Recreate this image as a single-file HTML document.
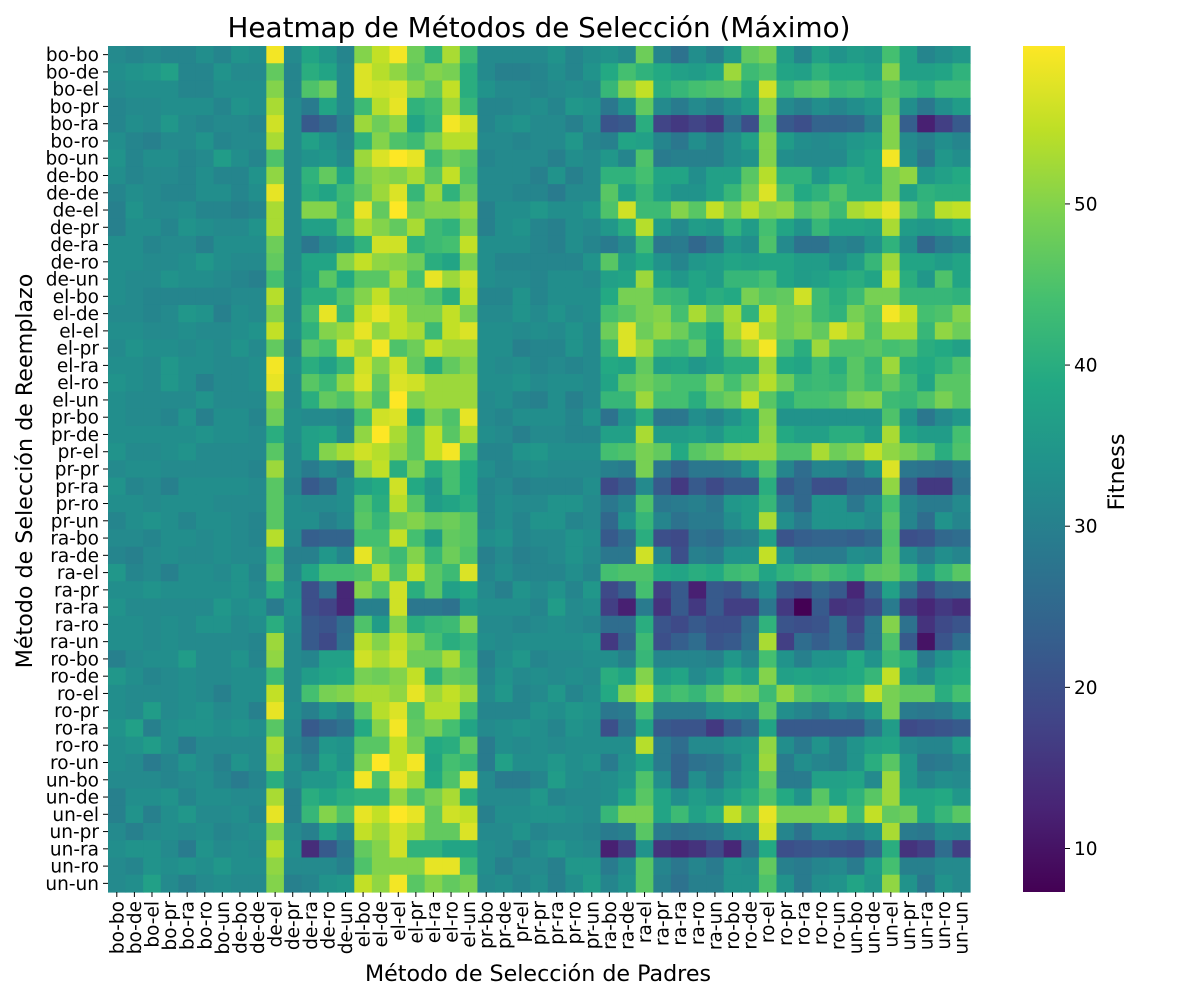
<!DOCTYPE html>
<html><head><meta charset="utf-8"><style>
html,body{margin:0;padding:0;background:#fff}
svg{display:block;font-family:"DejaVu Sans","Liberation Sans",sans-serif}
</style></head><body>
<svg id="chart" width="1200" height="1000" viewBox="0 0 1200 1000">
<text x="539" y="37" text-anchor="middle" font-size="27.8" fill="#000">Heatmap de Métodos de Selección (Máximo)</text>
<text x="538" y="981" text-anchor="middle" font-size="22.2" fill="#000">Método de Selección de Padres</text>
<text transform="translate(32,471) rotate(-90)" text-anchor="middle" font-size="22.2" fill="#000">Método de Selección de Reemplazo</text>
<text transform="translate(1124,472) rotate(-90)" text-anchor="middle" font-size="22.2" fill="#000">Fitness</text>
<g id="cells"></g>
<g id="xticks"></g>
<g id="yticks"></g>
<g id="cbar"></g>
</svg>
<script>
const methods = ["bo","de","el","pr","ra","ro","un"];
const categories = [];
methods.forEach(a => methods.forEach(b => categories.push(a + "-" + b)));
const colorbarTicks = [10, 20, 30, 40, 50];
const scaleMin = 7.3;
const scaleMax = 59.8;
const leftValues = [
[32,31,32,31,31,33,31,34,33,59,32,38,35,31,50,55,59,48,41,53,43,32,32,32],
[33,34,35,37,31,31,34,32,32,47,31,40,38,32,57,54,51,47,50,49,40,32,30,30],
[32,33,33,33,31,31,33,33,33,50,31,45,48,32,57,56,57,51,47,55,40,34,32,32],
[31,32,32,33,33,33,31,34,33,53,32,29,38,32,43,54,58,41,43,52,42,31,31,32],
[31,33,32,35,32,31,32,32,31,56,32,22,25,30,52,48,51,38,42,59,56,31,33,34],
[33,31,30,32,32,34,31,32,32,53,32,37,34,31,41,50,45,43,49,54,54,32,32,31],
[34,31,33,33,31,32,36,33,31,45,32,34,35,32,52,57,60,58,43,48,46,31,32,32],
[33,31,32,32,31,33,31,31,34,51,32,41,47,38,49,51,50,53,46,55,45,32,32,32],
[31,33,32,31,31,33,33,31,33,58,32,40,38,43,47,52,57,42,52,41,48,32,32,31],
[30,34,32,32,33,31,31,30,31,53,32,50,50,42,58,47,60,48,50,50,52,30,33,33],
[30,33,33,31,34,33,32,32,34,53,32,37,37,45,53,50,47,53,43,41,49,30,33,34],
[33,33,31,32,32,30,33,33,33,48,32,28,32,35,41,56,56,41,43,44,55,33,33,33],
[33,33,32,32,33,35,33,32,32,47,32,38,38,50,55,51,50,48,40,38,49,33,31,31],
[33,32,32,34,33,33,32,31,30,44,33,37,46,39,46,46,53,44,58,52,56,33,32,32],
[33,32,31,31,31,31,31,32,32,54,32,40,40,45,50,55,48,48,45,40,55,31,31,34],
[32,32,31,32,35,34,30,33,32,50,32,44,58,42,55,58,55,49,49,55,49,32,32,34],
[33,33,32,32,33,32,32,33,34,55,33,41,50,52,58,51,55,53,43,55,57,33,33,32],
[32,34,33,33,32,33,32,34,32,47,31,46,44,56,52,59,45,48,55,52,52,33,33,30],
[33,33,32,35,33,33,32,32,33,59,33,40,37,42,56,50,56,47,40,47,50,33,32,33],
[34,33,32,35,33,30,32,32,33,58,32,46,43,51,57,47,57,56,52,52,52,33,33,34],
[33,32,32,32,32,34,32,32,32,50,32,40,47,45,51,45,60,50,52,52,52,32,33,31],
[33,32,32,31,34,30,33,33,31,48,33,32,32,31,44,56,57,39,49,45,58,32,31,33],
[33,33,33,33,33,34,33,33,32,40,33,37,38,32,51,60,53,46,55,46,53,33,32,30],
[34,32,32,33,34,32,32,32,32,46,32,37,50,53,56,54,51,46,55,59,44,31,31,34],
[32,33,33,32,32,32,32,32,31,52,32,29,32,30,51,55,40,49,40,44,39,33,31,32],
[34,31,32,30,33,33,33,33,32,46,31,22,25,33,37,39,56,39,35,44,39,31,32,30],
[33,33,32,33,33,33,32,32,32,46,33,32,32,33,45,40,54,46,36,38,40,31,33,32],
[31,33,34,33,31,33,33,32,31,46,33,33,30,32,46,42,48,50,47,48,46,31,33,31],
[32,32,31,33,33,32,33,32,31,54,32,23,24,24,44,44,55,44,36,47,46,33,34,31],
[31,30,32,33,32,32,33,32,32,44,30,30,35,31,58,46,43,50,42,48,45,30,32,30],
[35,31,32,30,33,33,32,34,31,46,31,38,44,44,45,54,45,55,46,43,57,31,33,31],
[33,33,34,33,33,33,33,34,32,40,33,20,27,13,50,45,56,40,46,37,39,32,30,34],
[34,32,32,32,32,32,35,33,34,29,34,20,18,13,30,30,56,28,28,27,35,33,33,33],
[33,33,32,33,32,34,34,32,33,40,33,22,21,26,45,36,50,40,42,43,50,32,32,31],
[33,33,32,33,32,32,32,32,31,52,32,22,19,27,54,50,55,50,44,40,42,33,32,33],
[30,32,33,33,36,32,32,34,31,51,32,31,37,37,56,53,56,48,48,53,44,30,33,35],
[35,33,31,32,33,32,32,33,33,43,32,36,38,39,49,48,50,55,41,47,46,31,34,32],
[33,32,32,32,33,32,30,33,33,55,32,44,49,50,53,53,51,58,52,55,52,32,35,31],
[33,32,36,32,33,34,32,33,30,58,33,30,34,31,46,54,57,46,54,54,43,31,31,31],
[34,37,30,33,34,34,33,34,33,46,32,22,25,27,39,50,59,47,49,44,38,32,33,34],
[33,34,36,33,29,32,32,32,32,53,31,28,35,34,46,46,55,49,39,40,47,29,33,32],
[33,32,29,31,34,32,30,34,32,52,33,30,37,34,49,60,55,59,38,44,42,29,37,33],
[32,32,32,31,32,33,31,29,31,40,32,35,35,38,59,45,58,53,39,45,57,32,29,29],
[30,33,33,34,31,33,33,32,32,53,30,40,38,40,41,41,51,45,49,53,40,32,32,32],
[30,34,30,33,35,32,32,33,31,58,30,42,50,45,58,55,60,58,47,56,55,30,33,33],
[32,30,32,33,32,33,31,32,33,50,32,30,37,32,55,52,56,53,47,47,57,32,32,34],
[33,34,34,32,29,34,32,33,32,54,33,14,22,28,47,50,56,41,41,38,38,33,32,30],
[32,31,34,33,34,33,35,33,33,51,32,32,32,30,45,50,50,50,58,58,43,33,30,32],
[32,33,37,32,30,32,33,32,32,50,30,31,34,35,55,51,59,46,50,47,49,32,33,31]
];
const rightValues = [
[32,34,31,33,34,32,48,31,27,33,30,35,47,49,36,31,37,34,36,35,44,37,31,33,35],
[31,33,31,34,39,44,41,39,37,36,38,52,43,45,38,37,41,39,39,37,50,37,37,38,41],
[31,32,33,32,42,50,55,40,42,44,45,46,40,56,42,45,46,42,43,41,45,42,40,43,43],
[33,31,35,34,28,34,47,32,29,32,30,33,36,50,32,30,33,31,33,35,47,33,28,33,36],
[32,32,30,33,21,22,40,18,16,18,16,27,20,47,22,20,24,24,25,30,50,23,12,17,22],
[32,32,35,31,30,38,37,31,28,33,30,33,37,50,36,33,32,33,35,36,50,32,30,33,31],
[32,30,33,32,35,31,45,29,30,30,30,33,34,50,33,32,32,32,36,38,59,33,28,35,33],
[30,34,30,32,41,41,44,38,38,33,37,37,46,54,41,41,35,39,40,38,49,51,35,37,39],
[31,29,32,32,46,37,42,37,34,34,37,42,48,57,45,39,41,45,40,40,49,37,41,40,40],
[35,33,33,35,45,56,43,43,50,46,55,49,54,50,51,45,47,43,53,55,58,47,42,54,55],
[31,30,33,32,35,40,54,36,32,36,35,41,36,44,38,34,42,38,38,37,53,36,35,36,39],
[31,30,33,31,29,32,43,28,29,25,28,35,33,45,32,27,27,31,30,34,41,33,25,29,31],
[31,31,31,34,46,36,39,34,31,35,36,38,37,38,38,36,36,33,36,42,52,38,38,36,38],
[31,33,33,32,37,38,52,38,35,38,36,42,42,44,38,36,37,39,40,38,55,40,35,45,38],
[31,33,33,33,39,49,49,43,42,38,40,39,49,46,47,56,43,40,43,49,49,42,42,42,41],
[32,34,32,33,44,46,49,50,44,53,47,53,41,55,48,49,43,41,49,46,59,55,44,45,50],
[33,32,34,32,48,57,48,51,48,43,39,52,58,52,48,50,47,56,52,45,53,53,42,51,48],
[31,31,34,32,43,57,52,44,43,47,38,47,52,59,45,40,52,45,45,46,44,45,40,39,37],
[31,32,31,32,39,38,47,37,38,35,37,40,40,52,39,38,43,40,46,42,52,40,39,41,45],
[32,33,33,32,38,46,48,46,44,44,49,44,49,54,48,42,43,42,46,43,47,43,38,46,46],
[30,33,30,32,42,42,52,44,44,40,46,48,55,46,40,44,44,45,49,50,43,42,45,49,46],
[33,33,31,34,27,34,40,28,28,33,31,34,38,50,34,34,34,34,34,34,45,34,28,32,35],
[32,32,31,31,37,37,53,36,36,37,35,39,39,51,39,37,37,40,40,36,53,38,36,36,44],
[35,33,33,33,44,45,49,47,39,46,48,51,52,52,45,45,53,48,50,55,51,49,46,40,45],
[33,32,32,32,30,29,49,28,24,28,28,29,34,45,31,26,31,31,28,34,57,28,27,26,29],
[31,31,31,33,19,22,32,22,16,22,19,22,22,40,22,25,20,20,24,24,51,22,16,16,27],
[32,34,34,32,28,31,45,28,29,30,28,35,36,42,29,25,34,34,28,33,44,31,29,29,32],
[34,34,31,32,25,34,42,31,27,29,29,33,36,53,33,29,34,34,34,32,46,31,26,34,31],
[32,32,34,33,22,26,40,20,19,27,26,29,30,37,21,23,24,24,23,25,45,20,21,25,26],
[31,32,34,32,28,28,56,31,20,30,29,34,34,55,34,29,29,29,33,32,46,33,29,33,31],
[31,31,33,31,44,45,45,39,38,40,39,43,44,38,41,43,45,43,41,46,47,43,36,42,46],
[32,34,31,35,19,23,44,17,22,12,22,21,27,33,22,20,25,22,13,24,37,27,19,24,25],
[31,36,32,33,17,12,29,15,22,16,22,17,17,28,16,7.3,22,15,16,19,29,16,13,16,14],
[32,33,32,31,26,26,40,21,19,22,20,20,26,41,21,20,21,26,18,28,50,27,15,19,21],
[33,33,33,34,16,24,43,20,23,26,21,22,27,53,17,26,23,26,21,28,45,22,10,21,26],
[31,32,32,33,33,30,42,31,31,31,30,35,31,44,34,30,34,34,39,34,43,40,29,34,38],
[33,32,33,32,40,38,50,36,38,32,35,40,37,50,37,38,37,38,39,42,55,36,33,38,39],
[32,35,31,33,39,50,55,42,44,42,46,50,49,43,51,46,44,43,45,55,49,47,47,40,44],
[34,33,35,34,28,29,44,29,29,29,33,34,33,46,33,31,29,33,31,35,49,29,28,29,33],
[33,31,34,33,20,27,38,22,21,21,16,22,26,38,22,22,22,22,22,28,36,19,20,21,22],
[33,32,33,33,33,33,54,29,26,32,32,34,35,51,33,29,34,30,34,37,38,32,31,31,36],
[33,35,33,34,29,34,38,29,24,27,28,31,36,52,29,33,31,30,34,40,46,35,28,29,31],
[31,36,33,32,33,35,45,33,24,33,29,34,37,47,29,29,37,37,38,32,52,35,31,33,32],
[35,31,32,32,33,38,46,38,33,36,34,37,40,45,39,34,46,38,41,46,52,38,38,39,35],
[34,34,33,32,42,49,49,38,43,37,40,55,46,58,49,49,49,53,43,55,47,48,38,42,46],
[31,32,32,31,29,30,46,29,27,28,29,33,34,56,31,27,33,33,31,34,53,29,28,33,32],
[33,35,33,32,12,17,34,15,13,15,19,13,27,39,20,21,22,21,20,25,40,15,17,26,17],
[32,30,35,35,29,33,46,31,28,31,29,34,33,47,30,29,31,32,29,36,44,30,30,32,32],
[33,30,33,36,31,34,46,30,27,30,30,34,34,45,34,29,33,34,38,35,51,34,28,34,32]
];

const NS = "http://www.w3.org/2000/svg";
const plotX = 108, plotY = 46, plotW = 862, plotH = 846;
const n = categories.length;
const cw = plotW / n, ch = plotH / n;
const xPos = i => plotX + i * cw;
const yPos = i => plotY + i * ch;
const viridis = ["#440154","#482475","#414487","#355f8d","#2a788e","#21918c","#22a884","#44bf70","#7ad151","#bddf26","#fde725"];
function hex(c){return [parseInt(c.slice(1,3),16),parseInt(c.slice(3,5),16),parseInt(c.slice(5,7),16)];}
function color(v){
  let t = (v - scaleMin) / (scaleMax - scaleMin);
  t = Math.max(0, Math.min(1, t));
  const p = t * 10, i = Math.min(9, Math.floor(p)), f = p - i;
  const a = hex(viridis[i]), b = hex(viridis[i+1]);
  return "rgb(" + a.map((x,k)=>Math.round(x + (b[k]-x)*f)).join(",") + ")";
}
function el(tag, attrs, parent){
  const e = document.createElementNS(NS, tag);
  for (const k in attrs) e.setAttribute(k, attrs[k]);
  parent.appendChild(e);
  return e;
}
const cells = document.getElementById("cells");
for (let r = 0; r < n; r++) {
  const row = leftValues[r].concat(rightValues[r]);
  for (let c = 0; c < n; c++) {
    const rect = el("rect", {x: xPos(c).toFixed(2), y: yPos(r).toFixed(2), width: (cw+0.6).toFixed(2), height: (ch+0.6).toFixed(2), fill: color(row[c])}, cells);
    
    
  }
}
const fs = 18.5;
const xt = document.getElementById("xticks"), yt = document.getElementById("yticks");
categories.forEach((lab, i) => {
  const cx = xPos(i) + cw/2, cy = yPos(i) + ch/2;
  const tx = el("line", {x1: cx, x2: cx, y1: plotY+plotH, y2: plotY+plotH+5, stroke: "#000", "stroke-width": 1}, xt);
  
  
  const xl = el("text", {transform: "translate(" + (cx+6.5) + "," + (plotY+plotH+9) + ") rotate(-90)", "text-anchor": "end", "font-size": fs, fill: "#000"}, xt);
  xl.textContent = lab;
  
  
  const ty = el("line", {x1: plotX-5, x2: plotX, y1: cy, y2: cy, stroke: "#000", "stroke-width": 1}, yt);
  
  
  const yl = el("text", {x: plotX-9, y: cy+6.5, "text-anchor": "end", "font-size": fs, fill: "#000"}, yt);
  yl.textContent = lab;
  
  
});
const cb = document.getElementById("cbar");
const cbX = 1023, cbW = 42;
const defs = el("defs", {}, cb);
const grad = el("linearGradient", {id: "vg", x1: 0, y1: 1, x2: 0, y2: 0}, defs);
viridis.forEach((c, i) => el("stop", {offset: (i*10) + "%", "stop-color": c}, grad));
const cbr = el("rect", {x: cbX, y: plotY, width: cbW, height: plotH, fill: "url(#vg)"}, cb);


const cbY = v => plotY + plotH - (v - scaleMin) / (scaleMax - scaleMin) * plotH;
colorbarTicks.forEach(v => {
  const y = cbY(v);
  const tl = el("line", {x1: cbX+cbW, x2: cbX+cbW+5, y1: y, y2: y, stroke: "#000", "stroke-width": 1}, cb);
  
  
  const tt = el("text", {x: cbX+cbW+9, y: y+6.5, "font-size": fs, fill: "#000"}, cb);
  tt.textContent = v;
  
  
});
</script>
</body></html>
